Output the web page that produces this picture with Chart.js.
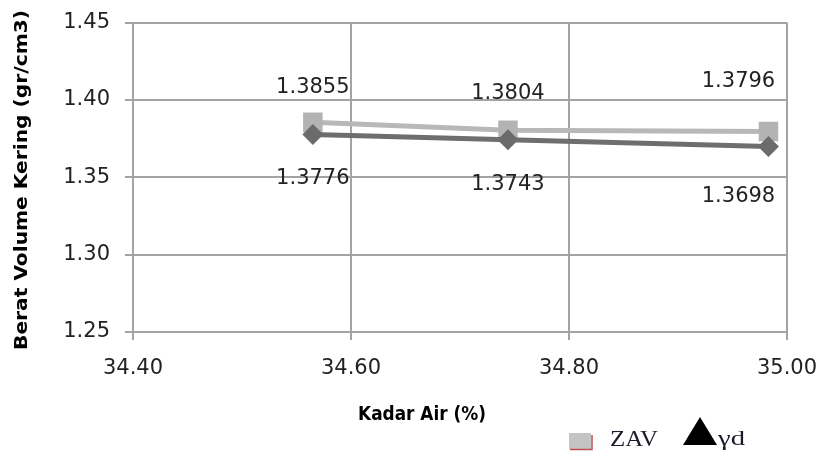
<!DOCTYPE html>
<html>
<head>
<meta charset="utf-8">
<script src="https://cdn.jsdelivr.net/npm/chart.js@4.4.0/dist/chart.umd.min.js"></script>
<style>
    html, body { margin: 0; padding: 0; background: #fff; }
    #wrap { width: 822px; height: 456px; }
</style>
</head>
<body>
<div id="wrap"><canvas id="grafik" width="822" height="456"></canvas></div>
<script>
// Data dari grafik
const kadarAir = [34.565, 34.744, 34.983];
const zav = [1.3855, 1.3804, 1.3796];
const gammaD = [1.3776, 1.3743, 1.3698];
const xTicks = [34.40, 34.60, 34.80, 35.00];
const yTicks = [1.25, 1.30, 1.35, 1.40, 1.45];

const gridColor = '#a3a3a3';
const textColor = '#222';

// posisi label angka (digeser manual seperti di Excel)
const labelDx = [0, 0, -30];
const zavDy = [-29, -31, -44];
const gdDy = [49, 50, 55];

function tulisPas(ctx, teks, x, y, lebar) {
    const w = ctx.measureText(teks).width;
    ctx.save();
    ctx.translate(x, y);
    ctx.scale(lebar / w, 1);
    ctx.fillText(teks, 0, 0);
    ctx.restore();
}

const labelPlugin = {
    id: 'labelAngka',
    afterDatasetsDraw(chart) {
        const ctx = chart.ctx;
        ctx.save();
        ctx.font = '21px "DejaVu Sans"';
        ctx.fillStyle = textColor;
        ctx.textAlign = 'center';
        ctx.textBaseline = 'alphabetic';
        const mZav = chart.getDatasetMeta(0).data;
        const mGd = chart.getDatasetMeta(1).data;
        mZav.forEach((p, i) => ctx.fillText(zav[i].toFixed(4), p.x + labelDx[i], p.y + zavDy[i]));
        mGd.forEach((p, i) => ctx.fillText(gammaD[i].toFixed(4), p.x + labelDx[i], p.y + gdDy[i]));
        ctx.restore();
    }
};

const judulPlugin = {
    id: 'judulDanLegenda',
    afterDraw(chart) {
        const ctx = chart.ctx;
        ctx.save();
        ctx.fillStyle = '#000';
        ctx.textAlign = 'center';
        ctx.textBaseline = 'middle';

        // judul sumbu Y
        ctx.font = 'bold 18px "DejaVu Sans Condensed", "DejaVu Sans"';
        ctx.save();
        ctx.translate(22, 180);
        ctx.rotate(-Math.PI / 2);
        tulisPas(ctx, 'Berat Volume Kering (gr/cm3)', 0, 0, 340);
        ctx.restore();

        // judul sumbu X
        ctx.font = 'bold 20px "DejaVu Sans Condensed", "DejaVu Sans"';
        tulisPas(ctx, 'Kadar Air (%)', 422, 415, 128);

        // legenda
        ctx.fillStyle = '#c4c4c4';
        ctx.fillRect(569, 433, 22, 16);
        ctx.strokeStyle = '#c0504d';
        ctx.lineWidth = 1.5;
        ctx.beginPath();
        ctx.moveTo(570, 449.5);
        ctx.lineTo(592, 449.5);
        ctx.lineTo(592, 435);
        ctx.stroke();

        ctx.fillStyle = '#000';
        ctx.beginPath();
        ctx.moveTo(683, 445);
        ctx.lineTo(700, 417);
        ctx.lineTo(717, 445);
        ctx.closePath();
        ctx.fill();

        ctx.fillStyle = '#1a1a2a';
        ctx.textAlign = 'left';
        ctx.textBaseline = 'alphabetic';
        ctx.font = '23px "Liberation Serif"';
        ctx.save();
        ctx.translate(610, 446);
        const wz = ctx.measureText('ZAV').width;
        ctx.scale(48 / wz, 1);
        ctx.fillText('ZAV', 0, 0);
        ctx.restore();

        ctx.font = '22px "Liberation Serif"';
        ctx.save();
        ctx.translate(718, 445);
        const wg = ctx.measureText('γd').width;
        ctx.scale(27 / wg, 1);
        ctx.fillText('γd', 0, 0);
        ctx.restore();

        ctx.restore();
    }
};

const ctx = document.getElementById('grafik').getContext('2d');
new Chart(ctx, {
    type: 'line',
    data: {
        datasets: [{
            label: 'ZAV',
            data: kadarAir.map((x, i) => ({ x, y: zav[i] })),
            borderColor: '#b8b8b8',
            backgroundColor: '#b3b3b3',
            borderWidth: 5,
            pointStyle: 'rect',
            pointRadius: 13.8,
            pointBorderWidth: 0,
            order: 1
        }, {
            label: 'γd',
            data: kadarAir.map((x, i) => ({ x, y: gammaD[i] })),
            borderColor: '#6e6e6e',
            backgroundColor: '#6b6b6b',
            borderWidth: 5,
            pointStyle: 'rectRot',
            pointRadius: 10.5,
            pointBorderWidth: 0,
            order: 0
        }]
    },
    options: {
        responsive: false,
        animation: false,
        devicePixelRatio: 1,
        layout: { padding: { top: 22.5, right: 35, left: 0, bottom: 0 } },
        plugins: {
            legend: { display: false },
            tooltip: { enabled: false }
        },
        scales: {
            x: {
                type: 'linear',
                min: xTicks[0],
                max: xTicks[xTicks.length - 1],
                afterBuildTicks: s => { s.ticks = xTicks.map(v => ({ value: v })); },
                afterFit: s => { s.height = 124; s.paddingLeft = 0; s.paddingRight = 0; },
                ticks: {
                    color: textColor,
                    font: { family: 'DejaVu Sans', size: 21 },
                    padding: 16,
                    maxRotation: 0,
                    autoSkip: false,
                    callback: v => Number(v).toFixed(2)
                },
                grid: { color: gridColor, lineWidth: 2, tickLength: 8 },
                border: { color: gridColor, width: 2 }
            },
            y: {
                min: yTicks[0],
                max: yTicks[yTicks.length - 1],
                afterBuildTicks: s => { s.ticks = yTicks.map(v => ({ value: v })); },
                afterFit: s => { s.width = 133; s.paddingTop = 0; s.paddingBottom = 0; },
                ticks: {
                    color: textColor,
                    font: { family: 'DejaVu Sans', size: 21 },
                    padding: 15,
                    callback: v => Number(v).toFixed(2)
                },
                grid: { color: gridColor, lineWidth: 2, tickLength: 8 },
                border: { color: gridColor, width: 2 }
            }
        }
    },
    plugins: [labelPlugin, judulPlugin]
});
</script>
</body>
</html>
